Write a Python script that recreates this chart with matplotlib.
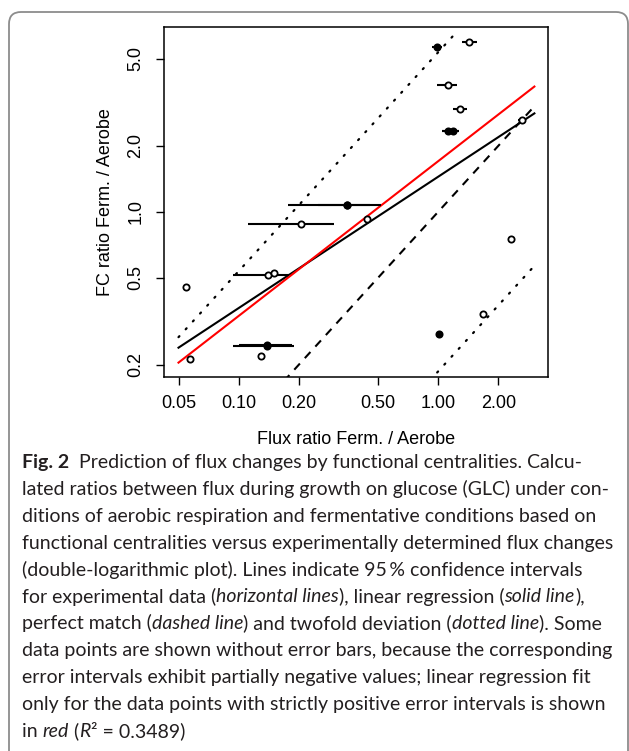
import numpy as np
import matplotlib.pyplot as plt
from matplotlib.patches import FancyBboxPatch
from matplotlib.transforms import IdentityTransform

# data points with 95 % intervals of the experimental flux ratio
bar_x = [0.98, 1.43, 1.114, 1.28, 1.114, 1.19, 0.35, 0.35, 0.205, 0.141, 0.139, 0.139, 1.68, 2.62]
bar_y = [5.67, 5.95, 3.78, 2.94, 2.34, 2.34, 1.075, 1.07, 0.876, 0.514, 0.245, 0.247, 0.34, 2.62]
bar_lo = [0.927, 1.32, 0.99, 1.18, 1.047, 1.047, 0.177, 0.25, 0.112, 0.0935, 0.0935, 0.10, 1.61, 2.50]
bar_hi = [1.05, 1.56, 1.24, 1.39, 1.27, 1.27, 0.516, 0.455, 0.30, 0.179, 0.189, 0.185, 1.76, 2.75]
bar_kind = ['solid', 'open', 'open', 'open', 'solid', 'solid', 'solid', 'solid',
            'open', 'open', 'solid', 'solid', 'open', 'open']

# data points without error bars (intervals partially negative)
free_x = [0.441, 2.31, 0.0545, 0.150, 0.129, 0.057, 1.005]
free_y = [0.923, 0.75, 0.452, 0.527, 0.22, 0.2125, 0.278]
free_kind = ['open', 'open', 'open', 'open', 'open', 'open', 'solid']

# fits in log10 space: slope, intercept
fit_all = (0.600, 0.160)
fit_pos = (0.707, 0.231)
deviation = 5.35
line_x = [0.05, 3.03]
upper_x = [0.05, 1.24]

x_ticks = [0.05, 0.1, 0.2, 0.5, 1, 2]
x_labels = ['0.05', '0.10', '0.20', '0.50', '1.00', '2.00']
y_ticks = [0.2, 0.5, 1, 2, 5]
y_labels = ['0.2', '0.5', '1.0', '2.0', '5.0']

caption = [
    [('Fig. 2', 'b'), ('  Prediction of flux changes by functional centralities. Calcu-', 'n')],
    [('lated ratios between flux during growth on glucose (GLC) under con-', 'n')],
    [('ditions of aerobic respiration and fermentative conditions based on', 'n')],
    [('functional centralities versus experimentally determined flux changes', 'n')],
    [('(double-logarithmic plot). Lines indicate 95\u2009% confidence intervals', 'n')],
    [('for experimental data (', 'n'), ('horizontal lines', 'i'), ('), linear regression (', 'n'),
     ('solid line', 'i'), ('),', 'n')],
    [('perfect match (', 'n'), ('dashed line', 'i'), (') and twofold deviation (', 'n'),
     ('dotted line', 'i'), ('). Some', 'n')],
    [('data points are shown without error bars, because the corresponding', 'n')],
    [('error intervals exhibit partially negative values; linear regression fit', 'n')],
    [('only for the data points with strictly positive error intervals is shown', 'n')],
    [('in ', 'n'), ('red', 'i'), (' (', 'n'), ('R', 'i'), ('\u00b2 = 0.3489)', 'n')],
]

W, H = 629, 751
fig = plt.figure(figsize=(W / 100, H / 100), dpi=100)
plt.rcParams['font.family'] = ['Liberation Sans', 'DejaVu Sans']

ax = fig.add_axes([164 / W, 1 - 377 / H, 384 / W, 350 / H])
ax.set_xscale('log')
ax.set_yscale('log')

lx = np.array(line_x)
ux = np.array(upper_x)
dots = dict(color='black', lw=1.6, ls=(0, (0.6, 4.2)), dash_capstyle='round')
ax.plot(lx, lx, color='black', lw=1.5, ls=(0, (4, 3.5)))
ax.plot(ux, ux * deviation, **dots)
ax.plot(lx, lx / deviation, **dots)
ax.plot(lx, 10 ** (fit_all[1] + fit_all[0] * np.log10(lx)), color='black', lw=1.5)
ax.plot(lx, 10 ** (fit_pos[1] + fit_pos[0] * np.log10(lx)), color='red', lw=1.5)

ax.hlines(bar_y, bar_lo, bar_hi, color='black', lw=1.5)
for xs, ys, kinds in [(bar_x, bar_y, bar_kind), (free_x, free_y, free_kind)]:
    for x, y, k in zip(xs, ys, kinds):
        ax.plot(x, y, 'o', ms=4.5, mew=1.3, color='black',
                mfc='black' if k == 'solid' else 'white')

ax.set_xlim(0.0423, 3.545)
ax.set_ylim(0.176, 6.97)
ax.set_xticks(x_ticks)
ax.set_xticklabels(x_labels)
ax.set_yticks(y_ticks)
ax.set_yticklabels(y_labels, rotation=90, va='center')
ax.minorticks_off()
ax.tick_params(length=6, width=1, labelsize=13, color='black')
ax.tick_params(axis='x', pad=7)
ax.tick_params(axis='y', pad=8)
for s in ax.spines.values():
    s.set_linewidth(1.1)
ax.set_xlabel('Flux ratio Ferm. / Aerobe', fontsize=13, labelpad=14)
ax.set_ylabel('FC ratio Ferm. / Aerobe', fontsize=13, labelpad=10)

# rounded frame around figure and caption
fig.add_artist(FancyBboxPatch((9, -20), 619, 751 - 12 + 20, transform=IdentityTransform(),
                              boxstyle='round,pad=0,rounding_size=12',
                              fc='none', ec='#8c8c8c', lw=1.3))

# caption, left aligned, runs placed one after another
renderer = fig.canvas.get_renderer()


def run_width(txt, kw):
    a = fig.text(0, 0, txt + '|', **kw)
    b = fig.text(0, 0, '|', **kw)
    w = a.get_window_extent(renderer).width - b.get_window_extent(renderer).width
    a.remove()
    b.remove()
    return w


for i, line in enumerate(caption):
    x = 22
    y = 468 + 26.9 * i
    for txt, style in line:
        kw = dict(family='Lato', size=14, color='#231f20',
                  weight='bold' if style == 'b' else 'normal',
                  style='italic' if style == 'i' else 'normal')
        fig.text(x / W, 1 - y / H, txt, ha='left', va='baseline', **kw)
        x += run_width(txt, kw)

fig.savefig('out.png', dpi=100)
